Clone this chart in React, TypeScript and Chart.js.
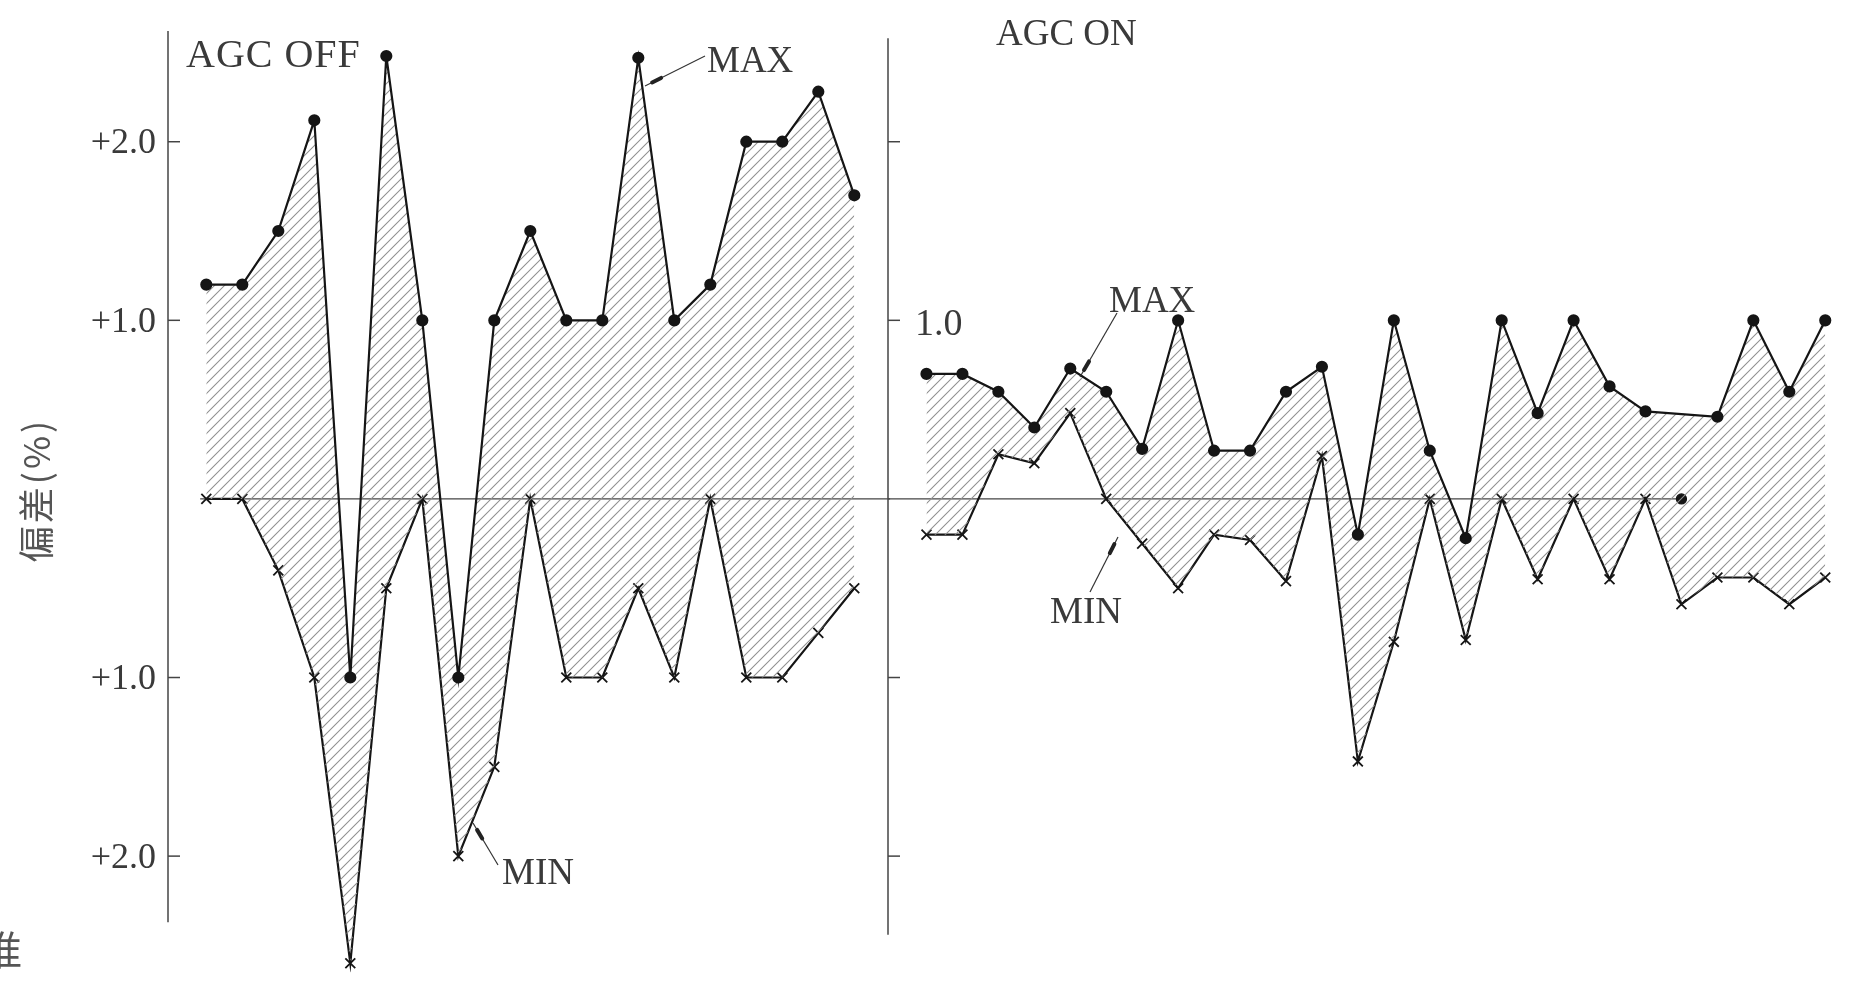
import React, { useEffect, useRef } from "react";
import { Chart, registerables } from "chart.js";

Chart.register(...registerables);

// ---------------- data ----------------
const OFF_SAMPLES = [1, 2, 3, 4, 5, 6, 7, 8, 9, 10, 11, 12, 13, 14, 15, 16, 17, 18, 19];
const OFF_MAX = [1.2, 1.2, 1.5, 2.12, -1.0, 2.48, 1.0, -1.0, 1.0, 1.5, 1.0, 1.0, 2.47, 1.0, 1.2, 2.0, 2.0, 2.28, 1.7];
const OFF_MIN = [0, 0, -0.4, -1.0, -2.6, -0.5, 0, -2.0, -1.5, 0, -1.0, -1.0, -0.5, -1.0, 0, -1.0, -1.0, -0.75, -0.5];

const ON_SAMPLES = [1, 2, 3, 4, 5, 6, 7, 8, 9, 10, 11, 12, 13, 14, 15, 16, 17, 18, 19, 20, 21, 22, 23, 24, 25, 26];
const ON_MAX = [0.7, 0.7, 0.6, 0.4, 0.73, 0.6, 0.28, 1.0, 0.27, 0.27, 0.6, 0.74, -0.2, 1.0, 0.27, -0.22, 1.0, 0.48, 1.0, 0.63, 0.49, null, 0.46, 1.0, 0.6, 1.0];
const ON_MIN = [-0.2, -0.2, 0.25, 0.2, 0.48, 0, -0.25, -0.5, -0.2, -0.23, -0.46, 0.24, -1.47, -0.8, 0, -0.79, 0, -0.45, 0, -0.45, 0, -0.59, -0.44, -0.44, -0.59, -0.44];

const Y_TICKS = [2, 1, 0, -1, -2];
const OFF_TICK_LABELS = ["+2.0", "+1.0", "", "+1.0", "+2.0"];
const ON_TICK_LABELS = ["", "1.0", "", "", ""];
const TICK_MARKS = [2, 1, -1, -2];

// zero reference line extents (in sample units)
const OFF_ZERO_SPAN = [0.83, 20];
const ON_ZERO_SPAN = [-0.07, 22];

// axis line extents (in value units)
const OFF_AXIS_RANGE = [2.62, -2.37];
const ON_AXIS_RANGE = [2.58, -2.44];

const Y_TITLE = "偏差(%)";
const CUT_CHAR = "准";

// ---------------- styles ----------------
const LINE = "#151515";
const TEXT = "#3a3a3a";
const AXIS = "#444";
const SERIF = "'Liberation Serif', 'DejaVu Serif', serif";

function makeHatch(): CanvasPattern | string {
  const c = document.createElement("canvas");
  c.width = 10;
  c.height = 10;
  const g = c.getContext("2d");
  if (!g) return "rgba(0,0,0,0.2)";
  g.strokeStyle = "#909090";
  g.lineWidth = 1.05;
  g.beginPath();
  g.moveTo(0, 10);
  g.lineTo(10, 0);
  g.moveTo(-5, 5);
  g.lineTo(5, -5);
  g.moveTo(5, 15);
  g.lineTo(15, 5);
  g.stroke();
  return g.createPattern(c, "repeat") || "rgba(0,0,0,0.2)";
}

function text(ctx: CanvasRenderingContext2D, s: string, x: number, y: number, size: number, spacing = 0) {
  ctx.save();
  ctx.font = `${size}px ${SERIF}`;
  ctx.fillStyle = TEXT;
  ctx.textAlign = "left";
  ctx.textBaseline = "alphabetic";
  try {
    (ctx as any).letterSpacing = `${spacing}px`;
  } catch (e) {}
  ctx.fillText(s, x, y);
  ctx.restore();
}

function leader(ctx: CanvasRenderingContext2D, x1: number, y1: number, x2: number, y2: number) {
  ctx.save();
  ctx.strokeStyle = "#333";
  ctx.lineWidth = 1.2;
  ctx.beginPath();
  ctx.moveTo(x1, y1);
  ctx.lineTo(x2, y2);
  ctx.stroke();
  const dx = x2 - x1;
  const dy = y2 - y1;
  const len = Math.hypot(dx, dy);
  const ux = dx / len;
  const uy = dy / len;
  ctx.lineWidth = 4;
  ctx.lineCap = "round";
  ctx.strokeStyle = "#222";
  ctx.beginPath();
  ctx.moveTo(x1 + ux * 8, y1 + uy * 8);
  ctx.lineTo(x1 + ux * 18, y1 + uy * 18);
  ctx.stroke();
  ctx.restore();
}

function drawAxis(chart: any, range: number[]) {
  const { ctx, chartArea, scales } = chart;
  const y = scales.y;
  const ax = chartArea.left;
  ctx.save();
  ctx.strokeStyle = AXIS;
  ctx.lineWidth = 1.5;
  ctx.beginPath();
  ctx.moveTo(ax, y.getPixelForValue(range[0]));
  ctx.lineTo(ax, y.getPixelForValue(range[1]));
  ctx.stroke();
  for (const v of TICK_MARKS) {
    const py = y.getPixelForValue(v);
    ctx.beginPath();
    ctx.moveTo(ax, py);
    ctx.lineTo(ax + 12, py);
    ctx.stroke();
  }
  ctx.restore();
}

const offDecor = {
  id: "offDecor",
  afterDraw(chart: any) {
    const ctx: CanvasRenderingContext2D = chart.ctx;
    drawAxis(chart, OFF_AXIS_RANGE);
    text(ctx, "AGC OFF", 186, 67, 40, 1);
    text(ctx, "MAX", 707, 72, 37, 0);
    leader(ctx, 645, 86, 705, 56);
    text(ctx, "MIN", 502, 884, 37, 0);
    leader(ctx, 473, 823, 498, 865);
    // y title
    ctx.save();
    ctx.translate(36, 490);
    ctx.rotate(-Math.PI / 2);
    ctx.font = "36px 'Noto Sans CJK JP', sans-serif";
    ctx.fillStyle = "#555";
    ctx.textAlign = "center";
    ctx.textBaseline = "middle";
    try {
      (ctx as any).letterSpacing = "3px";
    } catch (e) {}
    ctx.fillText(Y_TITLE, 0, 0);
    ctx.restore();
    // cut-off character at the lower-left edge
    ctx.save();
    ctx.font = "40px 'Noto Sans CJK JP', sans-serif";
    ctx.fillStyle = "#555";
    ctx.textAlign = "center";
    ctx.textBaseline = "middle";
    ctx.fillText(CUT_CHAR, 2, 950);
    ctx.restore();
  },
};

const onDecor = {
  id: "onDecor",
  afterDraw(chart: any) {
    const ctx: CanvasRenderingContext2D = chart.ctx;
    drawAxis(chart, ON_AXIS_RANGE);
    text(ctx, "AGC ON", 126, 45, 37, 0);
    text(ctx, "MAX", 239, 312, 37, 0);
    leader(ctx, 210, 377, 247, 313);
    text(ctx, "MIN", 180, 623, 37, 0);
    leader(ctx, 248, 537, 220, 592);
  },
};

function buildConfig(
  samples: number[],
  maxV: (number | null)[],
  minV: (number | null)[],
  zeroSpan: number[],
  tickLabels: string[],
  xRange: number[],
  yWidth: number,
  padRight: number,
  mirror: boolean,
  zeroEndDot: boolean,
  plugin: any
) {
  const hatch = makeHatch();
  const maxData = samples.map((s, i) => ({ x: s, y: maxV[i] }));
  const minData = samples.map((s, i) => ({ x: s, y: minV[i] }));
  const zeroData = zeroSpan.map((s) => ({ x: s, y: 0 }));
  return {
    type: "line" as const,
    data: {
      datasets: [
        {
          label: "MAX",
          data: maxData,
          borderColor: LINE,
          borderWidth: 2.2,
          backgroundColor: hatch,
          fill: "+1",
          pointStyle: "circle",
          pointRadius: 5,
          pointBackgroundColor: LINE,
          pointBorderColor: LINE,
          spanGaps: true,
          tension: 0,
        },
        {
          label: "MIN",
          data: minData,
          borderColor: LINE,
          borderWidth: 2.2,
          fill: false,
          pointStyle: "crossRot",
          pointRadius: 7,
          pointBorderWidth: 1.8,
          pointBorderColor: LINE,
          tension: 0,
        },
        {
          label: "zero",
          data: zeroData,
          borderColor: "#444",
          borderWidth: 1.3,
          fill: false,
          pointRadius: zeroEndDot ? [0, 5] : 0,
          pointBackgroundColor: LINE,
          pointBorderColor: LINE,
          tension: 0,
        },
      ],
    },
    options: {
      responsive: false,
      animation: false,
      events: [],
      layout: { padding: { top: 16.7, bottom: 6.6, left: 0, right: padRight } },
      plugins: { legend: { display: false }, tooltip: { enabled: false }, title: { display: false } },
      scales: {
        x: { type: "linear", min: xRange[0], max: xRange[1], display: false },
        y: {
          type: "linear",
          min: -2.65,
          max: 2.7,
          afterBuildTicks: (s: any) => {
            s.ticks = Y_TICKS.map((v) => ({ value: v }));
          },
          afterFit: (s: any) => {
            s.width = yWidth;
            s.paddingTop = 0;
            s.paddingBottom = 0;
          },
          grid: { display: false, drawTicks: false, tickLength: 0 },
          border: { display: false },
          ticks: {
            mirror,
            padding: mirror ? 27 : 12,
            labelOffset: mirror ? 5 : 2,
            color: TEXT,
            font: { family: SERIF, size: mirror ? 38 : 36 },
            callback: (v: any) => {
              const k = Y_TICKS.indexOf(Number(v));
              return k >= 0 ? tickLabels[k] : "";
            },
          },
        },
      },
    },
    plugins: [plugin],
  };
}

export default function App() {
  const leftRef = useRef<HTMLCanvasElement>(null);
  const rightRef = useRef<HTMLCanvasElement>(null);

  useEffect(() => {
    const charts: Chart[] = [];
    if (leftRef.current) {
      charts.push(
        new Chart(
          leftRef.current,
          buildConfig(OFF_SAMPLES, OFF_MAX, OFF_MIN, OFF_ZERO_SPAN, OFF_TICK_LABELS, [-0.064, 20], 168, 9.7, false, false, offDecor) as any
        )
      );
    }
    if (rightRef.current) {
      charts.push(
        new Chart(
          rightRef.current,
          buildConfig(ON_SAMPLES, ON_MAX, ON_MIN, ON_ZERO_SPAN, ON_TICK_LABELS, [-0.07, 27], 18, 7.5, true, true, onDecor) as any
        )
      );
    }
    return () => charts.forEach((c) => c.destroy());
  }, []);

  return (
    <div style={{ position: "fixed", left: 0, top: 0, width: 1870, height: 981, background: "#fff", overflow: "hidden" }}>
      <canvas ref={leftRef} width={900} height={981} style={{ position: "absolute", left: 0, top: 0, width: 900, height: 981 }} />
      <canvas ref={rightRef} width={1000} height={981} style={{ position: "absolute", left: 870, top: 0, width: 1000, height: 981 }} />
    </div>
  );
}
